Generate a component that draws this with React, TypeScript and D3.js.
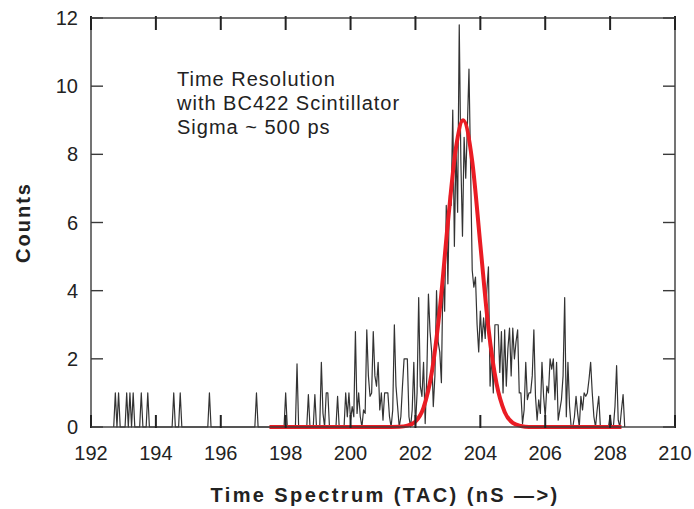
import React from 'react';
import * as d3 from 'd3';

const W = 694;
const H = 509;
const margin = { left: 91, right: 19, top: 18, bottom: 82 };

// TAC histogram: first channel and channel width (ns)
const binStart = 192.7;
const binWidth = 0.05;
// counts per channel, 20 channels per row
const counts = [
  0, 1, 0, 1, 0, 0, 0, 0, 1, 0, 1, 0, 1, 0, 0, 0, 0, 1, 0, 0,
  0, 1, 0, 0, 0, 0, 0, 0, 0, 0, 0, 0, 0, 0, 0, 0, 0, 1, 0, 0,
  0, 1, 0, 0, 0, 0, 0, 0, 0, 0, 0, 0, 0, 0, 0, 0, 0, 0, 0, 1,
  0, 0, 0, 0, 0, 0, 0, 0, 0, 0, 0, 0, 0, 0, 0, 0, 0, 0, 0, 0,
  0, 0, 0, 0, 0, 0, 0, 0, 1, 0, 0, 0, 0, 0, 0, 0, 0, 0, 0, 0,
  0, 0, 0, 0, 0, 0, 1, 0, 0, 0, 0, 0, 0, 1.85, 0, 0, 0, 0, 0, 0,
  0.95, 0, 0, 0, 0.95, 0, 0, 0, 1.9, 0.4, 0, 1, 1, 0, 0, 0, 0, 0, 0.9, 0,
  0, 0, 0, 1, 0.3, 1, 0.2, 0.6, 0.3, 2.8, 0.4, 1, 0.3, 0, 0.5, 0.4, 2.85, 1.5, 0.9, 1,
  2.8, 1.5, 1.2, 1.9, 0.5, 1, 0.2, 1, 1, 1, 0.3, 0, 0.5, 3, 1.2, 0.6, 0, 0.3, 1.2, 2,
  2, 2, 0.3, 0, 0.5, 1.9, 0, 1, 3.8, 1.2, 0.9, 1.9, 0.1, 1.5, 3.9, 2.8, 2.2, 0.6, 1.5, 4,
  2.5, 2.2, 1.3, 4.6, 3.4, 6.5, 4.2, 6.8, 6.5, 9.3, 5.3, 8.2, 6.3, 11.8, 7.8, 5.6, 8.5, 7.3, 8.8, 10.5,
  7.6, 4.6, 4.1, 4.4, 3, 2.2, 3.4, 2.5, 3.2, 2.6, 4, 4.7, 1.2, 2.1, 1, 3, 3, 3, 1.6, 2.8,
  1, 2.85, 1.2, 2.3, 2.9, 1.5, 2.9, 2, 2.5, 2.85, 1, 1, 0.1, 0.5, 1.9, 0.8, 1, 1, 1.5, 2.85,
  0.9, 0.2, 0.8, 0.4, 1.9, 0.9, 0.3, 1.2, 1, 2, 1.7, 2, 0.8, 1.9, 0.2, 0.5, 0.8, 1.5, 3.8, 0.3,
  1.9, 0.6, 0, 0, 0.3, 0.9, 0.4, 0, 0.9, 0.5, 1, 0.9, 1, 1.4, 1.9, 1, 0.3, 0, 0.5, 0.9,
  0, 0, 0, 0, 0, 0, 0.35, 0, 0, 0.6, 1.8, 0.2, 0, 0.5, 0.95, 0,
];

// gaussian fit
const fitTimes = [197.5, 201.0, 201.5, 201.75, 202.0, 202.25, 202.5, 202.75, 203.0, 203.25, 203.47,
  203.75, 204.0, 204.25, 204.5, 204.75, 205.0, 205.25, 205.5, 206.0, 208.35];
const fitCounts = [0, 0, 0.01, 0.04, 0.16, 0.57, 1.58, 3.45, 6.0, 8.2, 9.0,
  7.8, 5.35, 2.9, 1.27, 0.44, 0.12, 0.03, 0, 0, 0];

const xTicks = [192, 194, 196, 198, 200, 202, 204, 206, 208, 210];
const yTicks = [0, 2, 4, 6, 8, 10, 12];
const noteLines = ['Time Resolution', 'with BC422 Scintillator', 'Sigma ~ 500 ps'];

const font = '"Liberation Sans", Arial, sans-serif';

export default function App() {
  const x = d3.scaleLinear().domain([192, 210]).range([margin.left, W - margin.right]);
  const y = d3.scaleLinear().domain([0, 12]).range([H - margin.bottom, margin.top]);
  const x0 = x.range()[0], x1 = x.range()[1];
  const y0 = y.range()[0], y1 = y.range()[1];

  const histLine = d3.line<number>()
    .x((d, i) => x(binStart + i * binWidth))
    .y((d) => y(d));

  const fitLine = d3.line<number>()
    .x((d, i) => x(fitTimes[i]))
    .y((d) => y(d))
    .curve(d3.curveMonotoneX);

  const tickLen = 12;
  const axisColor = '#3a3a3a';

  return (
    <svg width={W} height={H} style={{ position: 'absolute', left: 0, top: 0, background: '#fff' }}>
      <path d={histLine(counts) || ''} fill="none" stroke="#333" strokeWidth={1.2} strokeLinejoin="round" />
      <path d={fitLine(fitCounts) || ''} fill="none" stroke="#ea1c24" strokeWidth={4} />

      {/* frame */}
      <rect x={x0} y={y1} width={x1 - x0} height={y0 - y1} fill="none" stroke={axisColor} strokeWidth={1.4} />

      {xTicks.map((t) => (
        <g key={'x' + t}>
          <line x1={x(t)} x2={x(t)} y1={y0 + 1} y2={y0 - tickLen} stroke="#222" strokeWidth={2} />
          <line x1={x(t)} x2={x(t)} y1={y1 - 2} y2={y1 + tickLen} stroke="#222" strokeWidth={2} />
          <text x={x(t)} y={y0 + 33} textAnchor="middle" fontFamily={font} fontSize={20} fill="#222">{t}</text>
        </g>
      ))}
      {yTicks.map((v) => (
        <g key={'y' + v}>
          <line x1={x0} x2={x0 + tickLen} y1={y(v)} y2={y(v)} stroke={axisColor} strokeWidth={1.4} />
          <line x1={x1} x2={x1 - tickLen} y1={y(v)} y2={y(v)} stroke={axisColor} strokeWidth={1.4} />
          <text x={x0 - 13} y={y(v) + 7} textAnchor="end" fontFamily={font} fontSize={20} fill="#222">{v}</text>
        </g>
      ))}

      {noteLines.map((s, i) => (
        <text key={s} x={177} y={86 + i * 24} fontFamily={font} fontSize={20} letterSpacing={1} fill="#222">{s}</text>
      ))}

      <text x={(x0 + x1) / 2 + 2} y={502} textAnchor="middle" fontFamily={font} fontWeight="bold"
        fontSize={20} letterSpacing={2.4} fill="#222">Time Spectrum (TAC) (nS —&gt;)</text>
      <text transform={`translate(30, ${(y0 + y1) / 2}) rotate(-90)`} textAnchor="middle" fontFamily={font}
        fontWeight="bold" fontSize={20} letterSpacing={2} fill="#222">Counts</text>
    </svg>
  );
}
